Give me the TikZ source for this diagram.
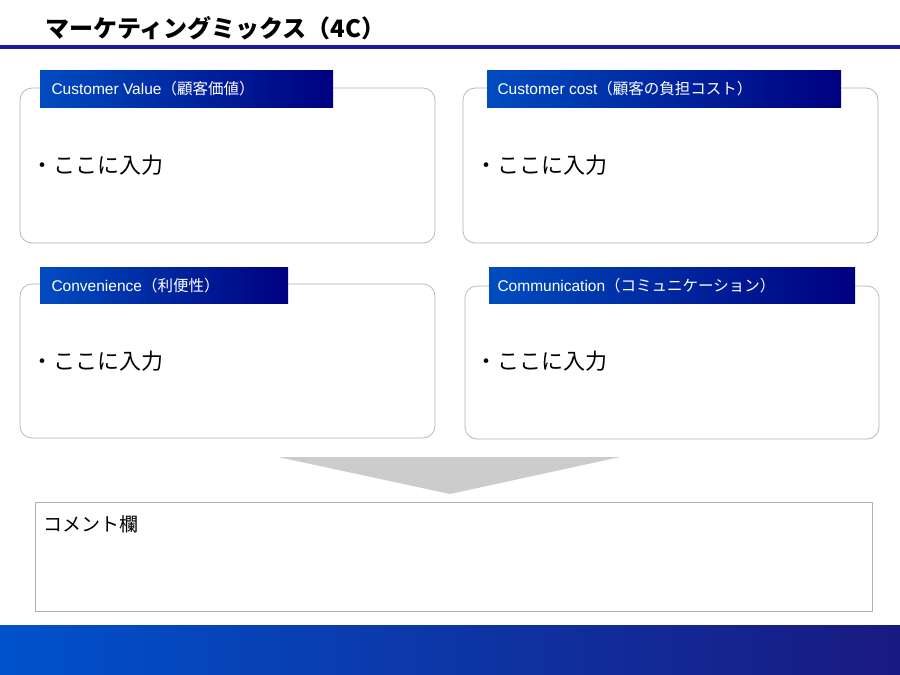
\documentclass[tikz,border=0pt]{standalone}
\usepackage{fontspec}
\setmainfont{Liberation Sans}
\newfontfamily\jp{Noto Sans CJK JP}
\begin{document}
\begin{tikzpicture}[x=1pt,y=-1pt,
  card/.style={draw=gray!60,rounded corners=12pt,line width=0.7pt,fill=white},
  lbl/.style={fill=blue!55!black,top color=blue!60!cyan!70!black,bottom color=blue!60!black,text=white,anchor=west,inner sep=0pt,minimum height=36pt,font=\fontsize{15}{17}\selectfont},
  body/.style={anchor=west,font=\jp\fontsize{22}{24}\selectfont}]
\useasboundingbox (0,0) rectangle (900,675);
\fill[white] (0,0) rectangle (900,675);
\node[anchor=west,font=\jp\bfseries\fontsize{24}{26}\selectfont] (title) at (42,28) {マーケティングミックス（4C）};
\fill[blue!60!black!90] (0,44.5) rectangle (900,49);
% cards
\draw[card] (20,88) rectangle (435,243) node[pos=0,coordinate](c1){};
\draw[card] (463,88) rectangle (878,243);
\draw[card] (20,284) rectangle (435,438);
\draw[card] (465,286) rectangle (879,439);
\shade[left color=blue!60!cyan!75!black,right color=blue!50!black] (40,70) rectangle (333,107);
\shade[left color=blue!60!cyan!75!black,right color=blue!50!black] (487,70) rectangle (841,107);
\shade[left color=blue!60!cyan!75!black,right color=blue!50!black] (40,267) rectangle (288,303);
\shade[left color=blue!60!cyan!75!black,right color=blue!50!black] (489,267) rectangle (855,303);
\node[anchor=west,text=white,font=\fontsize{15.5}{17}\selectfont] (l1) at (48,89) {Customer Value{\jp（顧客価値）}};
\node[anchor=west,text=white,font=\fontsize{15.5}{17}\selectfont] (l2) at (494,89) {Customer cost{\jp（顧客の負担コスト）}};
\node[anchor=west,text=white,font=\fontsize{15.5}{17}\selectfont] (l3) at (48,286) {Convenience{\jp（利便性）}};
\node[anchor=west,text=white,font=\fontsize{15.5}{17}\selectfont] (l4) at (494,286) {Communication{\jp（コミュニケーション）}};
\node[body] (b1) at (28,165) {・ここに入力};
\node[body] (b2) at (472,165) {・ここに入力};
\node[body] (b3) at (28,361) {・ここに入力};
\node[body] (b4) at (472,361) {・ここに入力};
\fill[gray!40] (278,457) -- (620,457) -- (450,494) -- cycle;
\draw[gray!60,line width=0.8pt] (35,502) rectangle (872,611);
\node[anchor=west,font=\jp\fontsize{19}{21}\selectfont] (cm) at (40,524) {コメント欄};
\shade[left color=blue!60!cyan!80!black,right color=blue!45!black!90] (0,625) rectangle (900,675);
\end{tikzpicture}
\end{document}
